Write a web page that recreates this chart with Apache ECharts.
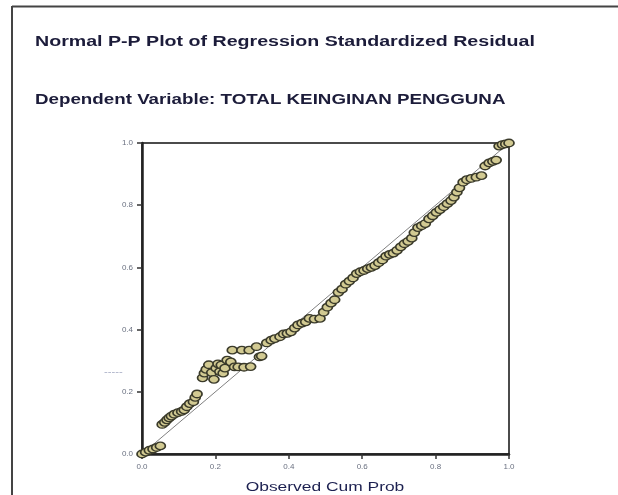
<!DOCTYPE html>
<html>
<head>
<meta charset="utf-8">
<script src="https://cdn.jsdelivr.net/npm/echarts@6/dist/echarts.min.js"></script>
<style>
html,body{margin:0;padding:0;background:#fff;}
#chart{width:618px;height:495px;}
</style>
</head>
<body>
<div id="chart"></div>
<script>
var titleText = "Normal P-P Plot of Regression Standardized Residual";
var subtitleText = "Dependent Variable: TOTAL KEINGINAN PENGGUNA";
var xAxisName = "Observed Cum Prob";
var yAxisStub = "-----";
var axisTicks = [0.0, 0.2, 0.4, 0.6, 0.8, 1.0];

var observedCumProb = [
  0.000, 0.010, 0.020, 0.030, 0.040, 0.050,
  0.055, 0.062, 0.068, 0.074, 0.080, 0.088, 0.098, 0.108, 0.115, 0.122, 0.130, 0.140, 0.145, 0.150,
  0.165, 0.170, 0.175, 0.182, 0.190, 0.196, 0.202, 0.207, 0.212, 0.216, 0.221, 0.226, 0.232, 0.242,
  0.246, 0.252, 0.262, 0.272, 0.278, 0.292, 0.296, 0.312, 0.320, 0.326, 0.340, 0.352, 0.362, 0.376,
  0.386, 0.396, 0.406, 0.416, 0.425, 0.436, 0.446, 0.456, 0.470, 0.485, 0.495, 0.505, 0.515, 0.525,
  0.535, 0.545, 0.555, 0.565, 0.575, 0.585, 0.595, 0.605, 0.615, 0.625, 0.635, 0.645, 0.655, 0.665,
  0.675, 0.685, 0.695, 0.705, 0.715, 0.725, 0.735, 0.742, 0.752, 0.762, 0.772, 0.782, 0.792, 0.802,
  0.812, 0.822, 0.832, 0.842, 0.850, 0.858, 0.865, 0.875, 0.885, 0.897, 0.911, 0.925, 0.935, 0.946,
  0.956, 0.965, 0.973, 0.982, 0.991, 1.000
];
var expectedCumProb = [
  0.000, 0.006, 0.012, 0.016, 0.021, 0.026,
  0.095, 0.102, 0.110, 0.116, 0.122, 0.128, 0.133, 0.137, 0.142, 0.152, 0.162, 0.168, 0.182, 0.193,
  0.245, 0.260, 0.272, 0.287, 0.262, 0.240, 0.276, 0.290, 0.265, 0.286, 0.260, 0.276, 0.302, 0.296,
  0.334, 0.280, 0.280, 0.334, 0.279, 0.334, 0.281, 0.345, 0.312, 0.315, 0.357, 0.366, 0.371, 0.377,
  0.386, 0.388, 0.393, 0.405, 0.415, 0.421, 0.425, 0.436, 0.434, 0.436, 0.456, 0.472, 0.485, 0.496,
  0.520, 0.530, 0.546, 0.556, 0.566, 0.580, 0.586, 0.590, 0.596, 0.600, 0.606, 0.615, 0.624, 0.636,
  0.642, 0.646, 0.655, 0.666, 0.676, 0.684, 0.694, 0.712, 0.728, 0.734, 0.741, 0.756, 0.766, 0.777,
  0.786, 0.795, 0.805, 0.815, 0.826, 0.842, 0.856, 0.874, 0.882, 0.886, 0.890, 0.895, 0.926, 0.936,
  0.941, 0.945, 0.990, 0.995, 0.997, 1.000
];
var diagonal = [[0, 0], [1, 1]];

var points = observedCumProb.map(function (x, i) { return [x, expectedCumProb[i]]; });

var chart = echarts.init(document.getElementById('chart'), null, {renderer: 'canvas'});
var labelFont = 'Liberation Sans, Arial, sans-serif';
var titleColor = '#1c1c3a';
chart.setOption({
  backgroundColor: '#ffffff',
  animation: false,
  grid: {left: 142, top: 143, right: 109, bottom: 41, show: true, borderColor: '#111', borderWidth: 1.5},
  xAxis: {
    type: 'value', min: 0, max: 1, interval: 0.2,
    axisLine: {show: true, lineStyle: {color: '#222', width: 2.5}},
    axisTick: {show: true, length: 5, lineStyle: {color: '#333', width: 1.5}},
    axisLabel: {fontFamily: labelFont, fontSize: 8, color: '#6a7080', margin: 9,
      formatter: function (v) { return v.toFixed(1); }},
    splitLine: {show: false}
  },
  yAxis: {
    type: 'value', min: 0, max: 1, interval: 0.2,
    axisLine: {show: true, lineStyle: {color: '#222', width: 2.5}},
    axisTick: {show: true, length: 5, lineStyle: {color: '#333', width: 1.5}},
    axisLabel: {fontFamily: labelFont, fontSize: 8, color: '#6a7080', margin: 9,
      formatter: function (v) { return v.toFixed(1); }},
    splitLine: {show: false}
  },
  graphic: [
    {type: 'line', shape: {x1: 12, y1: 6.5, x2: 618, y2: 6.5}, style: {stroke: '#444', lineWidth: 2}},
    {type: 'line', shape: {x1: 12, y1: 6, x2: 12, y2: 495}, style: {stroke: '#444', lineWidth: 2}},
    {type: 'text', x: 35, y: 42, scaleX: 1.4,
     style: {text: titleText, fontFamily: labelFont, fontSize: 14, fontWeight: 'bold', fill: titleColor, textVerticalAlign: 'middle'}},
    {type: 'text', x: 35, y: 100, scaleX: 1.34,
     style: {text: subtitleText, fontFamily: labelFont, fontSize: 14, fontWeight: 'bold', fill: titleColor, textVerticalAlign: 'middle'}},
    {type: 'text', x: 325, y: 488, scaleX: 1.45,
     style: {text: xAxisName, fontFamily: labelFont, fontSize: 12, fill: '#1c2050', textAlign: 'center', textVerticalAlign: 'middle'}},
    {type: 'text', x: 104, y: 372, scaleX: 1.4,
     style: {text: yAxisStub, fontSize: 8, fill: '#8890b0', fontFamily: labelFont, textVerticalAlign: 'middle'}}
  ],
  series: [
    {type: 'line', data: diagonal, symbol: 'none', lineStyle: {color: '#808080', width: 1}, z: 2},
    {type: 'scatter', data: points, symbol: 'circle', symbolSize: [10, 7.5],
     itemStyle: {color: '#d2ca92', borderColor: '#3a3a2a', borderWidth: 1.5, opacity: 1}, z: 3}
  ]
});
</script>
</body>
</html>
